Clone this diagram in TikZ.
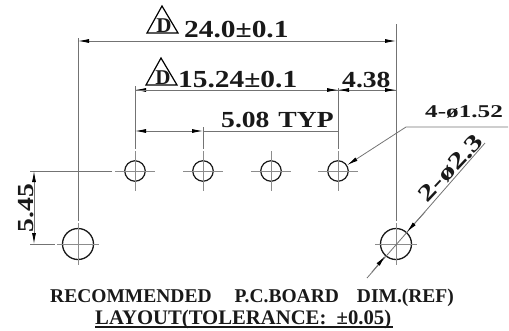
\documentclass[tikz,border=0pt]{standalone}
\usepackage{fontspec}
\setmainfont{Liberation Serif}
\newfontfamily\digitfont[FakeStretch=1.2,BoldFont={Liberation Serif Bold}]{Liberation Serif Bold}
\newfontfamily\smallfont[FakeStretch=1.4,BoldFont={Liberation Serif Bold}]{Liberation Serif Bold}
\usetikzlibrary{arrows.meta,calc}
\tikzset{
 dim/.style={draw=black!55,line width=0.8pt},
 tip/.style={-{Latex[length=11pt,width=4pt,black]}},
 tips/.style={{Latex[length=11pt,width=4pt,black]}-{Latex[length=11pt,width=4pt,black]}},
 cl/.style={draw=black!45,line width=0.7pt},
 bighole/.style={circle,draw=black!90,line width=1.3pt,minimum size=31pt,inner sep=0pt},
 smallhole/.style={circle,draw=black!90,line width=1.2pt,minimum size=20.5pt,inner sep=0pt},
 lab/.style={font=\digitfont\fontsize{24.5}{24}\selectfont,inner sep=0pt,text=black!90},
 lab5/.style={font=\digitfont\fontsize{23}{23}\selectfont,inner sep=0pt,text=black!90},
 labs/.style={font=\smallfont\fontsize{18}{18}\selectfont,inner sep=0pt,text=black!90},
 labr/.style={font=\smallfont\fontsize{23}{23}\selectfont,inner sep=0pt,text=black!90},
 labb/.style={font=\bfseries\fontsize{19.5}{20}\selectfont,inner sep=0pt,text=black!90},
 labu/.style={font=\bfseries\fontsize{20.7}{21}\selectfont,inner sep=0pt,text=black!90},
 tri/.style={draw=black,line width=1.2pt,line join=miter},
 tridee/.style={font=\bfseries\fontsize{21}{21}\selectfont,inner sep=0pt,text=black!90},
}
\newcommand{\holemark}[2]{%
 \draw[cl] ($(#1)+(-#2,0)$) -- ($(#1)+(#2,0)$);
 \draw[cl] ($(#1)+(0,-#2)$) -- ($(#1)+(0,#2)$);}
\begin{document}
\begin{tikzpicture}[x=1pt,y=-1pt]
\useasboundingbox (0,0) rectangle (509,330);
% holes
\node[bighole] (B1) at (78,244) {};
\node[bighole] (B2) at (396,244) {};
\node[smallhole] (S1) at (135,171) {};
\node[smallhole] (S2) at (203,171) {};
\node[smallhole] (S3) at (271,171) {};
\node[smallhole] (S4) at (338,171) {};
\holemark{B1}{21}\holemark{B2}{21}
\holemark{S1}{20}\holemark{S2}{20}\holemark{S3}{20}\holemark{S4}{20}
% dimension coordinates
\coordinate (t1) at (78,41); \coordinate (t2) at (396,41);
\coordinate (m1) at (135,90); \coordinate (m2) at (338,90); \coordinate (m3) at (396,90);
\coordinate (n1) at (135,131); \coordinate (n2) at (203,131); \coordinate (n3) at (338,131);
\coordinate (l1) at (30,171); \coordinate (l2) at (30,244);
\coordinate (a1) at (34,171); \coordinate (a2) at (34,244);
\coordinate (e1) at (78,38); \coordinate (e2) at (396,24);
\coordinate (e3) at (135,86); \coordinate (e4) at (203,127); \coordinate (e5) at (338,88);
% extension lines
\draw[dim] (e1) -- (78,221);
\draw[dim] (e2) -- (396,221);
\draw[dim] (e3) -- (135,149);
\draw[dim] (e4) -- (203,149);
\draw[dim] (e5) -- (338,149);
\draw[dim] (l1) -- (112,171);
\draw[dim] (l2) -- (55,244);
% dimension lines
\draw[dim,tips] (t1) -- (t2);
\draw[dim,tip] (m3) -- (m1);
\draw[dim,tip] (m1) -- (m2);
\draw[dim,tip] ($(m2)+(18,0)$) -- (m2);
\draw[dim,tip] ($(m3)+(-18,0)$) -- (m3);
\draw[dim,tips] (n1) -- (n2);
\draw[dim] (n2) -- (n3);
\draw[dim,tips] (a1) -- (a2);
% leaders
\coordinate (q1) at (508,127); \coordinate (q2) at (406,127);
\draw[dim,tip] (q1) -- (q2) -- (S4);
\coordinate (r1) at (485,143); \coordinate (r2) at (367,278);
\draw[dim] (r1) -- (r2);
\draw[dim,{Latex[length=11pt,width=4pt,black]}-] (B2.48) -- (425,212);
\draw[dim,{Latex[length=11pt,width=4pt,black]}-] (B2.228) -- (372,272);
% delta-D symbols
\draw[tri] (162,6) -- (147,33) -- (178,33) -- cycle;
\node[tridee,anchor=base] (d1) at (164,32) {D};
\draw[tri] (161,58) -- (146,85) -- (177,85) -- cycle;
\node[tridee,anchor=base] (d2) at (163,84) {D};
% labels
\node[lab,anchor=base west] (x1) at (184,37) {24.0±0.1};
\node[lab,anchor=base west] (x2) at (178,87) {15.24±0.1};
\node[lab5,anchor=base west] (x3) at (221,127) {5.08\hspace{9pt}TYP};
\node[lab5,anchor=base west] (x4) at (342,87) {4.38};
\node[labs,anchor=base west] (x5) at (425,117) {4-ø1.52};
\node[lab5,rotate=90,anchor=base] (x6) at (33,208) {5.45};
\node[labr,rotate=47,anchor=center] (x7) at (451,168) {2-ø2.3};
\node[labb,anchor=base west] (x8) at (50,302) {RECOMMENDED\hspace{23pt}P.C.BOARD\hspace{18pt}DIM.(REF)};
\node[labu,anchor=base west] (x9) at (95,324) {LAYOUT(TOLERANCE:\ \ ±0.05)};
\coordinate (u1) at (95,327); \coordinate (u2) at (393,327);
\draw[black!90,line width=1.2pt] (u1) -- (u2);
\end{tikzpicture}
\end{document}
